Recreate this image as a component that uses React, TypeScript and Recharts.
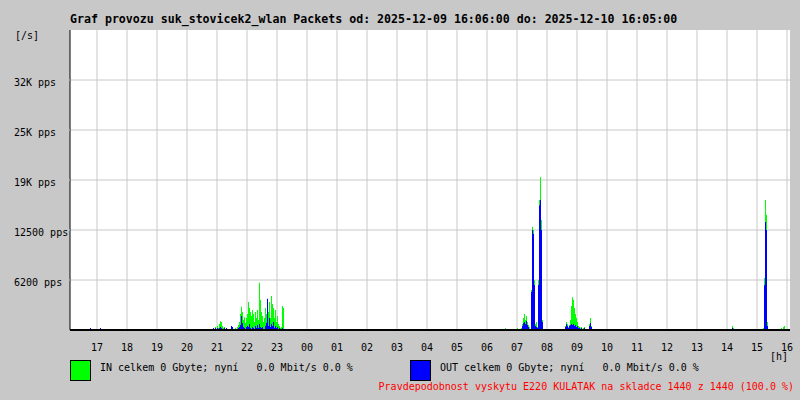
import React from "react";
import { ComposedChart, Area, XAxis, YAxis, CartesianGrid } from "recharts";

// ---- texts ----
const titleText =
  "Graf provozu suk_stovicek2_wlan Packets od: 2025-12-09 16:06:00 do: 2025-12-10 16:05:00";
const inLegend = "IN celkem 0 Gbyte; nyní   0.0 Mbit/s 0.0 %";
const outLegend = "OUT celkem 0 Gbyte; nyní   0.0 Mbit/s 0.0 %";
const footerText =
  "Pravdepodobnost vyskytu E220 KULATAK na skladce 1440 z 1440 (100.0 %)";
const yUnit = "[/s]";
const xUnit = "[h]";

// ---- axes ----
const startClock = "16:06";
const spanMinutes = 1440;
const sampleStep = 2; // minutes per sample
const hourLabels = [
  "17", "18", "19", "20", "21", "22", "23", "00", "01", "02", "03", "04",
  "05", "06", "07", "08", "09", "10", "11", "12", "13", "14", "15", "16",
];
const yTickValues = [6250, 12500, 18750, 25000, 31250];
const yTickLabels = ["6200 pps", "12500 pps", "19K pps", "25K pps", "32K pps"];
const yMax = 37500;

// ---- series (pps), bursts of consecutive 2-minute samples ----
const blipStarts = ["16:46", "17:06", "06:36"];
const blipIn = [0, 0, 250];
const blipOut = [250, 250, 0];

const eveningStart = "20:52";
const eveningIn = [
  250, 0, 380, 120, 500, 250, 750, 1100, 1000, 500, 250, 380, 120, 250, 0, 120,
  0, 0, 500, 380, 0, 120, 250, 120, 380, 620, 1000, 2000, 2900, 2250, 1250, 1600,
  880, 1500, 2000, 3500, 2750, 2250, 1750, 2500, 2000, 1000, 2250, 1500, 2500, 1250,
  5900, 3750, 2250, 1750, 1000, 1500, 2750, 2000, 3000, 2250, 3500, 1500, 4250, 3250,
  2750, 1500, 2500, 1000, 1750, 750, 500, 250, 380, 3000, 2750, 0,
];
const eveningOut = [
  250, 0, 250, 120, 250, 120, 250, 380, 250, 120, 120, 250, 0, 250, 0, 120,
  0, 0, 500, 380, 0, 0, 120, 0, 120, 250, 380, 620, 1750, 880, 380, 250,
  120, 380, 500, 380, 750, 250, 120, 380, 250, 120, 500, 250, 620, 250,
  750, 380, 250, 380, 120, 120, 500, 880, 3900, 500, 1500, 380, 750, 500,
  1000, 250, 500, 250, 380, 120, 250, 120, 120, 250, 120, 0,
];

const morningStart = "06:56";
const morningIn = [
  120, 0, 250, 0, 0, 0, 250, 750, 1500, 2000, 1250, 1750, 1000, 620, 380, 120,
  5000, 12900, 12500, 6250, 750, 1000, 380, 6250, 16250, 19100, 13750, 1250, 0,
];
const morningOut = [
  0, 0, 120, 0, 0, 0, 120, 500, 880, 1000, 750, 1120, 620, 380, 120, 120,
  4750, 12500, 12000, 5620, 500, 380, 250, 5620, 15600, 16250, 12500, 1000, 0,
];

const nineStart = "08:32";
const nineIn = [
  120, 0, 500, 1000, 750, 380, 620, 1250, 3000, 4100, 3750, 2750, 2000, 1500, 1000,
  500, 380, 250, 380, 120, 250, 380, 120, 0, 0, 0, 750, 1500, 500, 0,
];
const nineOut = [
  120, 0, 380, 750, 500, 250, 500, 620, 750, 620, 750, 500, 620, 380, 500,
  250, 250, 120, 250, 120, 120, 250, 0, 0, 0, 0, 500, 880, 380, 0,
];

const afternoonStart = "14:10";
const afternoonIn = [500, 250, 0];
const afternoonOut = [250, 120, 0];

const lateStart = "15:12";
const lateIn = [250, 6500, 16250, 14400, 1000, 0];
const lateOut = [120, 5600, 13500, 12500, 500, 0];

const endStart = "15:48";
const endIn = [250, 0, 380, 500, 120, 0];
const endOut = [0, 0, 0, 120, 0, 0];

// ---- data building ----
const toMin = (c: string) => {
  const [h, m] = c.split(":").map(Number);
  return h * 60 + m;
};
const toOffset = (c: string) =>
  (toMin(c) - toMin(startClock) + spanMinutes) % spanMinutes;

const bursts = [
  ...blipStarts.map((s, i) => ({ start: s, inV: [blipIn[i]], outV: [blipOut[i]] })),
  { start: eveningStart, inV: eveningIn, outV: eveningOut },
  { start: morningStart, inV: morningIn, outV: morningOut },
  { start: nineStart, inV: nineIn, outV: nineOut },
  { start: afternoonStart, inV: afternoonIn, outV: afternoonOut },
  { start: lateStart, inV: lateIn, outV: lateOut },
  { start: endStart, inV: endIn, outV: endOut },
];

const buildData = () => {
  const pts = new Map<number, { in: number; out: number }>();
  bursts.forEach((b) => {
    const t0 = toOffset(b.start);
    b.inV.forEach((v, i) => pts.set(t0 + sampleStep * i, { in: v, out: b.outV[i] }));
  });
  bursts.forEach((b) => {
    const end = toOffset(b.start) + sampleStep * b.inV.length;
    if (!pts.has(end)) pts.set(end, { in: 0, out: 0 });
  });
  if (!pts.has(0)) pts.set(0, { in: 0, out: 0 });
  if (!pts.has(spanMinutes)) pts.set(spanMinutes, { in: 0, out: 0 });
  return Array.from(pts.entries())
    .map(([t, v]) => ({ t, in: v.in, out: v.out }))
    .filter((d) => d.t <= spanMinutes)
    .sort((a, b) => a.t - b.t);
};
const data = buildData();
const hourTicks = hourLabels.map((h) => toOffset(h + ":00"));

const FONT = "'DejaVu Sans Mono', monospace";
const BG = "#c8c8c8";

const XTick = (props: any) => {
  const { x, payload } = props;
  const idx = hourTicks.indexOf(payload.value);
  return (
    <text x={x} y={351} textAnchor="middle" fontFamily={FONT} fontSize={10} fill="#000">
      {hourLabels[idx]}
    </text>
  );
};

const YTick = (props: any) => {
  const { y, payload } = props;
  const idx = yTickValues.indexOf(payload.value);
  return (
    <text x={14} y={y + 5.5} textAnchor="start" fontFamily={FONT} fontSize={10} fill="#000">
      {yTickLabels[idx]}
    </text>
  );
};

export default function App() {
  return (
    <div style={{ position: "absolute", left: 0, top: 0, width: 800, height: 400, background: BG }}>
      <style>{"body{margin:0}"}</style>
      <ComposedChart
        width={800}
        height={400}
        data={data}
        margin={{ top: 30, right: 10, bottom: 40, left: 8 }}
        style={{ position: "absolute", left: 0, top: 0 }}
      >
        <CartesianGrid
          stroke={BG}
          strokeWidth={1}
          fill="#ffffff"
          fillOpacity={1}
          horizontalValues={yTickValues}
          verticalValues={hourTicks}
        />
        <XAxis
          type="number"
          dataKey="t"
          domain={[0, spanMinutes]}
          ticks={hourTicks}
          interval={0}
          tick={<XTick />}
          tickLine={false}
          axisLine={{ stroke: "#000", strokeWidth: 2 }}
          height={30}
          allowDataOverflow
        />
        <XAxis
          xAxisId="top"
          orientation="top"
          type="number"
          dataKey="t"
          domain={[0, spanMinutes]}
          tick={false}
          tickLine={false}
          axisLine={{ stroke: "#000" }}
          height={0}
        />
        <YAxis
          type="number"
          domain={[0, yMax]}
          ticks={yTickValues}
          interval={0}
          width={62}
          tick={<YTick />}
          tickSize={2}
          tickLine={{ stroke: BG }}
          axisLine={{ stroke: "#000" }}
          allowDataOverflow
        />
        <YAxis
          yAxisId="right"
          orientation="right"
          type="number"
          domain={[0, yMax]}
          tick={false}
          tickLine={false}
          axisLine={{ stroke: "#000" }}
          width={0}
        />
        <Area
          type="stepAfter"
          dataKey="in"
          stroke="none"
          fill="#00ff00"
          fillOpacity={1}
          isAnimationActive={false}
          dot={false}
          activeDot={false}
        />
        <Area
          type="stepAfter"
          dataKey="out"
          stroke="none"
          fill="#0000ff"
          fillOpacity={1}
          isAnimationActive={false}
          dot={false}
          activeDot={false}
        />
      </ComposedChart>
      <svg
        width={800}
        height={400}
        style={{ position: "absolute", left: 0, top: 0, pointerEvents: "none" }}
      >
        <text x={70} y={23} fontFamily={FONT} fontSize={11.6} fontWeight="bold" fill="#000">
          {titleText}
        </text>
        <text x={15} y={39} fontFamily={FONT} fontSize={10} fill="#000">
          {yUnit}
        </text>
        <text x={788} y={360} textAnchor="end" fontFamily={FONT} fontSize={10} fill="#000">
          {xUnit}
        </text>
        <rect x={70.5} y={360.5} width={20} height={20} fill="#00ff00" stroke="#000" />
        <text x={100} y={371} fontFamily={FONT} fontSize={10} fill="#000" xmlSpace="preserve" style={{ whiteSpace: "pre" }}>
          {inLegend}
        </text>
        <rect x={410.5} y={360.5} width={20} height={20} fill="#0000ff" stroke="#000" />
        <text x={440} y={371} fontFamily={FONT} fontSize={10} fill="#000" xmlSpace="preserve" style={{ whiteSpace: "pre" }}>
          {outLegend}
        </text>
        <text x={794} y={390} textAnchor="end" fontFamily={FONT} fontSize={10} fill="#ff0000" xmlSpace="preserve" style={{ whiteSpace: "pre" }}>
          {footerText}
        </text>
      </svg>
    </div>
  );
}
